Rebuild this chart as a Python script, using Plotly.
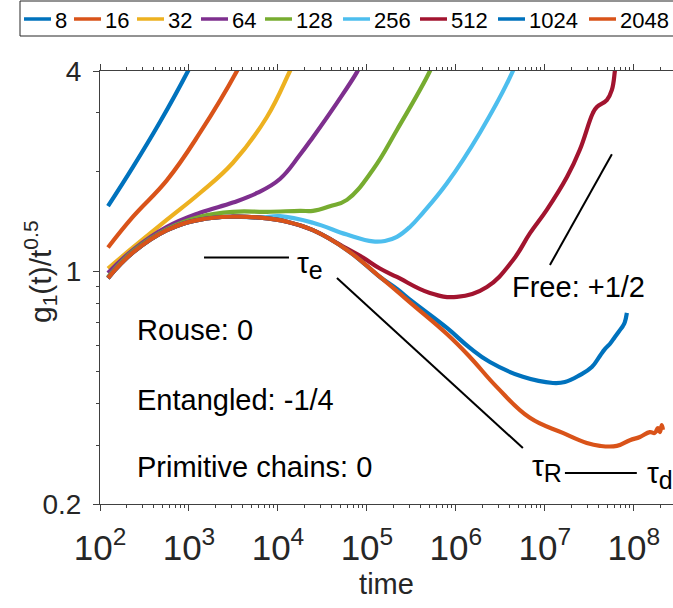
import math
import plotly.graph_objects as go

# ---------------- data ----------------
series_labels = ["8", "16", "32", "64", "128", "256", "512", "1024", "2048"]
series_colors = ["#0072BD", "#D95319", "#EDB120", "#7E2F8E", "#77AC30",
                 "#4DBEEE", "#A2142F", "#0072BD", "#D95319"]

# common (entangled-chain) master curve shared by the long chains
main_t = [123, 235, 566, 1330, 3120, 6280, 12620, 24720, 59600, 140000]
main_g = [0.955, 1.14, 1.33, 1.43, 1.46, 1.45, 1.41, 1.33, 1.16, 0.962]

t_8 = [123, 235, 472, 975, 1081]
g_8 = [1.57, 2.06, 2.81, 4.0, 4.23]

t_16 = [123, 235, 566, 1330, 3460, 3837]
g_16 = [1.18, 1.46, 1.88, 2.61, 4.0, 4.23]

t_32 = [123, 235, 566, 1330, 3120, 7520, 13640, 15140]
g_32 = [1.02, 1.18, 1.43, 1.72, 2.12, 2.91, 4.0, 4.23]

t_64 = [123, 235, 566, 1330, 3120, 5810, 10520, 17670, 24720, 46030, 77300,
        87000]
g_64 = [0.989, 1.16, 1.36, 1.50, 1.61, 1.72, 1.895, 2.24, 2.53, 3.21, 3.97,
        4.23]

t_128 = [123, 235, 566, 1330, 3120, 7520, 17670, 24720, 38370, 59600,
         116700, 217300, 510400, 552000]
g_128 = [0.962, 1.15, 1.34, 1.46, 1.51, 1.51, 1.52, 1.52, 1.57, 1.64,
         2.02, 2.66, 4.0, 4.23]

t_256_tail = [10520, 24720, 59600, 116700, 159200, 217300, 304000, 425600,
              792800, 1.862e6, 4.37e6, 4.72e6]
g_256_tail = [1.465, 1.40, 1.29, 1.23, 1.234, 1.27, 1.36, 1.50, 1.84, 2.61,
              4.0, 4.23]

t_512_tail = [59600, 90200, 140000, 217300, 510400, 1.026e6, 2.23e6, 4.37e6,
              6.78e6, 1.05e7, 1.77e7, 2.47e7, 3.46e7, 3.84e7, 4.97e7, 5.66e7,
              6.12e7, 6.28e7]
g_512_tail = [1.17, 1.10, 1.02, 0.962, 0.861, 0.838, 0.898, 1.08, 1.30, 1.53,
              1.92, 2.32, 2.99, 3.12, 3.27, 3.51, 4.0, 4.23]

t_1024_tail = [217300, 328700, 792800, 1.436e6, 2.41e6, 5.66e6, 1.23e7,
               1.68e7, 2.47e7, 3.37e7, 4.15e7, 4.72e7, 5.37e7, 6.12e7,
               6.97e7, 7.52e7, 7.92e7, 8.35e7]
g_1024_tail = [0.885, 0.809, 0.676, 0.589, 0.534, 0.482, 0.462, 0.465, 0.488,
               0.516, 0.557, 0.584, 0.605, 0.635, 0.666, 0.685, 0.704, 0.750]

t_2048_tail = [217300, 328700, 792800, 1.436e6, 2.89e6, 6.78e6, 1.59e7,
               2.96e7, 4.15e7, 6.44e7, 9.02e7, 1.17e8, 1.51e8, 1.72e8,
               1.86e8, 1.96e8, 2.06e8, 2.12e8]
g_2048_tail = [0.872, 0.793, 0.648, 0.553, 0.449, 0.363, 0.327, 0.305, 0.299,
               0.299, 0.311, 0.318, 0.329, 0.327, 0.338, 0.329, 0.345, 0.334]

# guide lines (scaling slopes / characteristic times)
tau_e_t = [1476, 13300]
tau_e_g = [1.10, 1.10]
entangled_t = [46030, 5.66e6]
entangled_g = [0.955, 0.2945]
tau_rd_t = [1.68e7, 1.08e8]
tau_rd_g = [0.248, 0.248]
free_t = [1.14e7, 5.66e7]
free_g = [1.045, 2.25]

x_range_log = [2, 8.44]
y_tickvals = [0.2, 1, 4]
y_ticktext = ["0.2", "1", "4"]

# ---------------- assemble series ----------------
series_t = [
    t_8, t_16, t_32, t_64, t_128,
    main_t[:6] + t_256_tail,
    main_t[:8] + t_512_tail,
    main_t + t_1024_tail,
    main_t + t_2048_tail,
]
series_g = [
    g_8, g_16, g_32, g_64, g_128,
    main_g[:6] + g_256_tail,
    main_g[:8] + g_512_tail,
    main_g + g_1024_tail,
    main_g + g_2048_tail,
]

# ---------------- layout geometry ----------------
W, H = 673, 608
ML, MR, MT, MB = 100, 0, 71, 104
PW = W - ML - MR
PH = H - MT - MB


def xp(px):
    return (px - ML) / PW


def yp(py):
    return (H - MB - py) / PH


FONT = "Liberation Sans, Arial, Helvetica, sans-serif"
AX = "#404040"
TXT = "#262626"

fig = go.Figure()

for lab, col, t, g in zip(series_labels, series_colors, series_t, series_g):
    fig.add_trace(go.Scatter(
        x=t, y=g, mode="lines", name=lab, showlegend=False,
        line=dict(color=col, width=4.2, shape="spline", smoothing=1.2),
        hoverinfo="skip"))

for gt, gg in [(tau_e_t, tau_e_g), (entangled_t, entangled_g),
               (tau_rd_t, tau_rd_g), (free_t, free_g)]:
    fig.add_trace(go.Scatter(x=gt, y=gg, mode="lines", showlegend=False,
                             line=dict(color="black", width=2),
                             hoverinfo="skip"))

annotations = []
shapes = []


def add_text(text, px, py, size, anchor="left", angle=0, color="black"):
    annotations.append(dict(
        text=text, xref="paper", yref="paper", x=xp(px), y=yp(py),
        xanchor=anchor, yanchor="middle", showarrow=False, textangle=angle,
        font=dict(family=FONT, size=size, color=color)))


add_text("Rouse: 0", 135, 330, 29)
add_text("Entangled: -1/4", 135, 400, 29)
add_text("Primitive chains: 0", 135, 467, 29)
add_text("Free: +1/2", 510, 287, 29)
SUB = "<sub><span style='font-size:25px'>%s</span></sub>"
add_text("τ" + SUB % "e", 295, 265, 30)
add_text("τ" + SUB % "R", 530, 468, 30)
add_text("τ" + SUB % "d", 645, 475, 30)

# y-axis label (placed like the reference, close to the axis)
add_text("g<sub>1</sub>(t)/t<sup>0.5</sup>", 40, 272, 30, anchor="center",
         angle=-90, color=TXT)

# legend (one row, boxed, drawn as in the reference)
legend_sample_px = [24, 74, 137, 201, 265, 343, 420, 498, 589]
shapes.append(dict(type="rect", xref="paper", yref="paper",
                   x0=xp(20), x1=xp(720), y0=yp(36), y1=yp(1),
                   line=dict(color="#262626", width=1), fillcolor="white",
                   layer="above"))
for lab, col, x0 in zip(series_labels, series_colors, legend_sample_px):
    shapes.append(dict(type="line", xref="paper", yref="paper",
                       x0=xp(x0), x1=xp(x0 + 27), y0=yp(19), y1=yp(19),
                       line=dict(color=col, width=3.5), layer="above"))
    annotations.append(dict(
        text=lab, xref="paper", yref="paper", x=xp(x0 + 29), y=yp(20),
        xanchor="left", yanchor="middle", showarrow=False,
        font=dict(family=FONT, size=22, color="black")))

fig.update_layout(
    width=W, height=H, autosize=False,
    margin=dict(l=ML, r=MR, t=MT, b=MB, pad=0),
    paper_bgcolor="white", plot_bgcolor="white",
    font=dict(family=FONT, color=TXT),
    annotations=annotations, shapes=shapes,
    showlegend=False,
)

fig.update_xaxes(
    type="log", range=x_range_log, dtick=1, exponentformat="power",
    showline=True, linecolor=AX, linewidth=1, mirror="ticks",
    ticks="outside", ticklen=6, tickwidth=1, tickcolor=AX,
    tickfont=dict(family=FONT, size=28, color=TXT),
    ticklabelstandoff=8,
    minor=dict(ticks="outside", ticklen=3, dtick="D1", tickcolor=AX,
               tickwidth=1),
    showgrid=False, zeroline=False,
    title=dict(text="time", font=dict(family=FONT, size=29, color=TXT),
               standoff=8),
)

fig.update_yaxes(
    type="log", range=[math.log10(0.2), math.log10(4)],
    tickvals=y_tickvals, ticktext=y_ticktext,
    showline=True, linecolor=AX, linewidth=1, mirror=False,
    ticks="outside", ticklen=6, tickwidth=1, tickcolor=AX,
    tickfont=dict(family=FONT, size=28, color=TXT),
    ticklabelstandoff=6,
    minor=dict(ticks="outside", ticklen=3, dtick="D1", tickcolor=AX,
               tickwidth=1),
    showgrid=False, zeroline=False,
)

fig.write_html("out.html")
